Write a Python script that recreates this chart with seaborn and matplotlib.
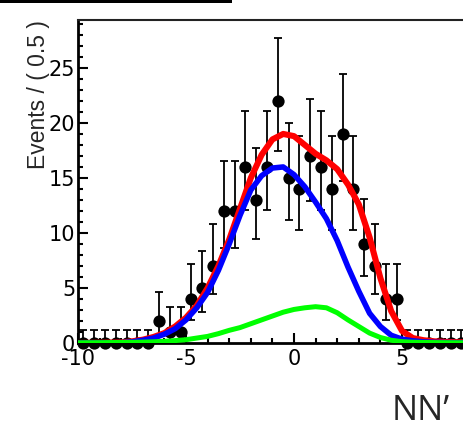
import numpy as np
import pandas as pd
import matplotlib
matplotlib.use('Agg')
import matplotlib.pyplot as plt
from matplotlib.ticker import MultipleLocator
from matplotlib.patches import Rectangle
import seaborn as sns

# binned data (bin width 0.5) with asymmetric poisson errors
bin_x = [-9.75, -9.25, -8.75, -8.25, -7.75, -7.25, -6.75, -6.25, -5.75, -5.25,
         -4.75, -4.25, -3.75, -3.25, -2.75, -2.25, -1.75, -1.25, -0.75, -0.25,
         0.25, 0.75, 1.25, 1.75, 2.25, 2.75, 3.25, 3.75, 4.25, 4.75,
         5.25, 5.75, 6.25, 6.75, 7.25, 7.75, 8.25, 8.75, 9.25, 9.75]
counts = [0, 0, 0, 0, 0, 0, 0, 2, 1, 1,
          4, 5, 7, 12, 12, 16, 13, 16, 22, 15,
          14, 17, 16, 14, 19, 14, 9, 7, 4, 4,
          0, 0, 0, 0, 0, 0, 0, 0, 0, 0]
err_lo = [0, 0, 0, 0, 0, 0, 0, 1.29, 0.83, 0.83,
          1.91, 2.16, 2.58, 3.41, 3.41, 3.94, 3.55, 3.94, 4.59, 3.82,
          3.69, 4.06, 3.94, 3.69, 4.29, 3.69, 2.95, 2.58, 1.91, 1.91,
          0, 0, 0, 0, 0, 0, 0, 0, 0, 0]
err_hi = [1.15, 1.15, 1.15, 1.15, 1.15, 1.15, 1.15, 2.64, 2.30, 2.30,
          3.16, 3.38, 3.77, 4.55, 4.55, 5.09, 4.69, 5.09, 5.76, 4.96,
          4.83, 5.21, 5.09, 4.83, 5.44, 4.83, 4.11, 3.77, 3.16, 3.16,
          1.15, 1.15, 1.15, 1.15, 1.15, 1.15, 1.15, 1.15, 1.15, 1.15]

# fitted curves
curve_x = [-10, -9, -8, -7.5, -7, -6.5, -6, -5.5, -5, -4.5, -4, -3.5, -3, -2.5, -2, -1.5,
           -1, -0.5, 0, 0.5, 1, 1.5, 2, 2.5, 3, 3.5, 4, 4.5, 5, 5.5, 6, 6.5, 7, 8, 9, 10]
total = [0.0, 0.02, 0.05, 0.15, 0.3, 0.55, 0.9, 1.5, 2.3, 3.4, 5.0, 7.0, 9.4, 12.2, 15.0, 17.1,
         18.5, 19.0, 18.8, 18.0, 17.2, 16.6, 15.8, 14.4, 12.6, 9.6, 5.9, 2.9, 1.1, 0.45,
         0.25, 0.15, 0.1, 0.05, 0.03, 0.02]
signal = [0.0, 0.01, 0.03, 0.1, 0.25, 0.45, 0.8, 1.3, 2.1, 3.2, 4.6, 6.6, 9.0, 11.6, 13.9, 15.2,
          15.9, 16.0, 15.3, 14.2, 12.8, 11.3, 9.3, 6.9, 4.7, 2.7, 1.5, 0.7, 0.35, 0.2,
          0.1, 0.06, 0.04, 0.02, 0.01, 0.0]
bkg = [0.02, 0.03, 0.05, 0.06, 0.08, 0.11, 0.15, 0.22, 0.3, 0.45, 0.6, 0.85, 1.15, 1.4, 1.75, 2.1,
       2.45, 2.8, 3.05, 3.2, 3.3, 3.2, 2.75, 2.1, 1.5, 0.9, 0.5, 0.25, 0.12, 0.07,
       0.05, 0.04, 0.03, 0.02, 0.02, 0.02]

xtick_vals = [-10, -5, 0, 5, 10]
xtick_text = ['-10', '-5', '0', '5', '']

sns.set_style('ticks')
plt.rcParams['font.family'] = ['DejaVu Sans']
plt.rcParams['axes.unicode_minus'] = False

fig = plt.figure(figsize=(4.64, 4.34), dpi=100)
ax = fig.add_axes([78 / 464, 91 / 434, 432 / 464, 323.5 / 434])

ax.errorbar(bin_x, counts, yerr=[err_lo, err_hi], fmt='none', ecolor='black',
            elinewidth=1.3, capsize=2.6, capthick=1.3, clip_on=False, zorder=2)
sns.scatterplot(x=bin_x, y=counts, color='black', s=78, edgecolor='black',
                linewidth=0, ax=ax, clip_on=False, zorder=3)

df = pd.DataFrame({'x': curve_x, 'total': total, 'signal': signal, 'bkg': bkg})
sns.lineplot(data=df, x='x', y='total', color='#ff0000', lw=4.4, ax=ax, zorder=4)
sns.lineplot(data=df, x='x', y='signal', color='#0000ff', lw=4.0, ax=ax, zorder=5)
sns.lineplot(data=df, x='x', y='bkg', color='#00ff00', lw=3.6, ax=ax, zorder=6)

ax.set_xlim(-10, 10)
ax.set_ylim(0, 29.4)
ax.set_xticks(xtick_vals, xtick_text)
ax.xaxis.set_minor_locator(MultipleLocator(1))
ax.yaxis.set_major_locator(MultipleLocator(5))
ax.yaxis.set_minor_locator(MultipleLocator(1))
ax.set_xlabel('')
ax.set_ylabel('')
ax.tick_params(which='both', direction='in', width=1.5, top=False, right=False,
               labelsize=15, colors='black')
ax.tick_params(which='major', length=7.5)
ax.tick_params(which='minor', length=3.8)
ax.tick_params(axis='y', pad=2)
ax.tick_params(axis='x', pad=4)
for s in ['left', 'bottom']:
    ax.spines[s].set_linewidth(2)
    ax.spines[s].set_color('black')
ax.spines['top'].set_linewidth(1.5)
ax.spines['top'].set_color('#222222')

fig.text(39 / 464, 1 - 20 / 434, 'Events / ( 0.5 )', rotation=90, ha='center', va='top',
         fontsize=16.5, family=['Liberation Sans', 'DejaVu Sans'])
fig.text(421 / 464, 1 - 411 / 434, 'NN\u2019', ha='center', va='center', fontsize=25,
         family=['Open Sans', 'DejaVu Sans'])
fig.add_artist(Rectangle((0, 1 - 3 / 434), 232 / 464, 3 / 434, transform=fig.transFigure,
                         color='black', lw=0))

fig.savefig('out.png', dpi=100)
